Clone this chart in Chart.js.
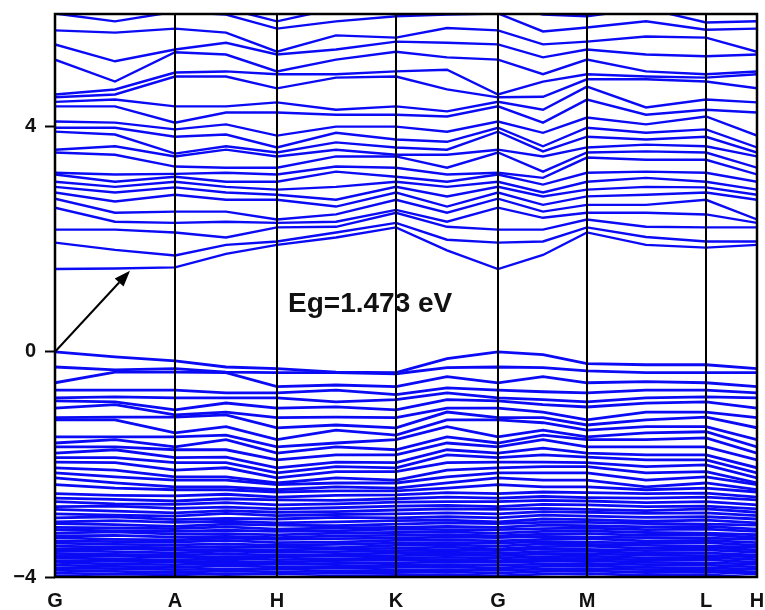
<!DOCTYPE html>
<html>
<head>
<meta charset="utf-8">
<script src="https://cdn.jsdelivr.net/npm/chart.js@4.4.0/dist/chart.umd.min.js"></script>
<style>
  html, body { margin: 0; padding: 0; background: #fff; }
  canvas { display: block; }
</style>
</head>
<body>
<canvas id="bandChart" width="765" height="610"></canvas>
<script>
// high-symmetry path (k distance in arbitrary units) and tick labels
const kLabels = ['G', 'A', 'H', 'K', 'G', 'M', 'L', 'H'];
const kTicks = [0, 120, 222, 341, 443, 532, 651, 702];
// sampled k points along the path (symmetry points + one point inside each segment)
const kPath = [0, 60, 120, 171, 222, 281, 341, 392, 443, 488, 532, 591, 651, 702];
const yTicks = [-4, 0, 4];

// conduction band energies (eV) read at each k point, lowest first
const cG  = [1.47, 1.94, 2.17, 2.56, 2.72, 2.83, 2.93, 3.02, 3.15, 3.18, 3.54, 3.59, 3.91, 3.98, 4.09, 4.36, 4.44, 4.52, 4.57, 5.19, 5.46, 5.71, 6.01, 6.17];
const cGA = [1.48, 1.81, 2.17, 2.31, 2.47, 2.67, 2.83, 2.93, 3.02, 3.15, 3.50, 3.65, 3.86, 3.98, 4.07, 4.36, 4.48, 4.57, 4.66, 4.80, 5.16, 5.67, 5.87, 6.05];
const cA  = [1.50, 1.71, 2.12, 2.29, 2.49, 2.79, 2.92, 3.02, 3.11, 3.16, 3.29, 3.47, 3.52, 3.82, 3.95, 4.07, 4.36, 4.89, 4.96, 5.32, 5.37, 5.74, 6.04, 6.17];
const cAH = [1.74, 1.90, 2.03, 2.31, 2.49, 2.70, 2.83, 2.93, 3.02, 3.18, 3.27, 3.59, 3.65, 3.86, 4.04, 4.25, 4.36, 4.89, 4.98, 5.28, 5.49, 5.67, 5.99, 6.10];
const cH  = [1.90, 1.96, 2.21, 2.29, 2.35, 2.70, 2.79, 2.88, 3.02, 3.15, 3.27, 3.47, 3.54, 3.63, 3.84, 4.25, 4.43, 4.68, 4.93, 4.98, 5.28, 5.33, 5.74, 5.87];
const cHK = [2.03, 2.12, 2.22, 2.31, 2.44, 2.58, 2.70, 2.93, 3.20, 3.29, 3.47, 3.59, 3.72, 3.89, 4.00, 4.21, 4.30, 4.87, 4.93, 5.19, 5.37, 5.62, 5.87, 6.10];
const cK  = [2.21, 2.29, 2.47, 2.52, 2.70, 2.83, 2.93, 3.02, 3.11, 3.27, 3.47, 3.50, 3.63, 3.77, 4.00, 4.21, 4.36, 4.89, 4.98, 5.33, 5.51, 5.58, 5.96, 6.12];
const cKG = [1.80, 1.99, 2.22, 2.31, 2.47, 2.58, 2.76, 2.93, 3.02, 3.15, 3.27, 3.50, 3.59, 3.73, 3.91, 4.18, 4.27, 4.66, 5.01, 5.23, 5.49, 5.75, 5.99, 6.15];
const cGM = [1.72, 1.96, 2.17, 2.38, 2.49, 2.61, 2.76, 2.83, 2.97, 3.09, 3.20, 3.47, 3.56, 3.65, 3.89, 4.07, 4.30, 4.53, 4.80, 4.93, 5.23, 5.46, 5.69, 5.99];
const cM  = [2.12, 2.21, 2.35, 2.47, 2.61, 2.76, 2.88, 3.02, 3.18, 3.45, 3.54, 3.63, 3.82, 3.98, 4.16, 4.48, 4.71, 4.84, 4.93, 5.19, 5.37, 5.51, 5.76, 5.96];
const cML = [1.90, 2.04, 2.22, 2.47, 2.61, 2.79, 2.93, 3.09, 3.20, 3.41, 3.56, 3.68, 3.77, 3.89, 4.04, 4.21, 4.34, 4.84, 4.89, 4.98, 5.28, 5.60, 5.87, 6.10];
const cL  = [1.85, 1.96, 2.21, 2.44, 2.70, 2.83, 2.92, 3.02, 3.18, 3.41, 3.54, 3.65, 3.82, 3.95, 4.18, 4.30, 4.48, 4.80, 4.87, 4.93, 5.25, 5.58, 5.72, 5.85];

// valence band energies (eV) at each k point, highest first
const vG  = [0.00, -0.27, -0.55, -0.68, -0.82, -0.87, -1.00, -1.17, -1.21, -1.51, -1.62, -1.69, -1.80, -1.88, -1.96, -2.06, -2.15, -2.24, -2.36,
  -2.52, -2.60, -2.66, -2.75, -2.80, -2.88, -2.95, -3.02, -3.05, -3.12, -3.16, -3.22, -3.27, -3.30, -3.36, -3.40, -3.45, -3.50, -3.53, -3.58, -3.62, -3.66, -3.71, -3.74, -3.79, -3.84, -3.88, -3.93, -3.98, -4.05, -4.15];
const vGA = [-0.09, -0.32, -0.36, -0.68, -0.80, -0.89, -0.94, -1.16, -1.21, -1.51, -1.56, -1.69, -1.74, -1.88, -1.97, -2.10, -2.22, -2.33, -2.42,
  -2.55, -2.62, -2.70, -2.74, -2.83, -2.90, -2.93, -3.00, -3.07, -3.13, -3.18, -3.20, -3.26, -3.33, -3.37, -3.42, -3.47, -3.49, -3.55, -3.60, -3.63, -3.68, -3.72, -3.77, -3.81, -3.85, -3.90, -3.95, -4.00, -4.07, -4.18];
const vA  = [-0.16, -0.30, -0.36, -0.68, -0.82, -1.03, -1.12, -1.16, -1.44, -1.51, -1.69, -1.74, -1.88, -1.97, -2.10, -2.22, -2.28, -2.40, -2.45,
  -2.56, -2.65, -2.71, -2.78, -2.86, -2.92, -2.98, -3.03, -3.10, -3.14, -3.19, -3.24, -3.29, -3.34, -3.38, -3.43, -3.48, -3.52, -3.57, -3.61, -3.65, -3.70, -3.73, -3.78, -3.83, -3.87, -3.92, -3.96, -4.02, -4.10, -4.20];
const vAH = [-0.27, -0.36, -0.37, -0.73, -0.82, -0.91, -1.07, -1.12, -1.33, -1.48, -1.56, -1.74, -1.87, -1.97, -2.06, -2.22, -2.28, -2.40, -2.45,
  -2.53, -2.61, -2.68, -2.76, -2.82, -2.87, -2.96, -3.01, -3.06, -3.11, -3.17, -3.23, -3.28, -3.31, -3.35, -3.41, -3.46, -3.51, -3.54, -3.59, -3.64, -3.67, -3.72, -3.76, -3.80, -3.86, -3.89, -3.94, -3.99, -4.06, -4.16];
const vH  = [-0.30, -0.37, -0.62, -0.73, -0.82, -1.00, -1.17, -1.35, -1.56, -1.69, -1.80, -1.92, -2.06, -2.15, -2.24, -2.33, -2.36, -2.45, -2.49,
  -2.58, -2.63, -2.72, -2.79, -2.85, -2.91, -2.97, -3.04, -3.08, -3.15, -3.19, -3.25, -3.30, -3.33, -3.39, -3.44, -3.47, -3.52, -3.56, -3.61, -3.64, -3.69, -3.74, -3.77, -3.82, -3.86, -3.91, -3.95, -4.01, -4.08, -4.18];
const vHK = [-0.36, -0.37, -0.59, -0.68, -0.89, -0.98, -1.16, -1.30, -1.39, -1.62, -1.69, -1.83, -1.96, -2.04, -2.13, -2.24, -2.33, -2.40, -2.47,
  -2.55, -2.64, -2.70, -2.77, -2.84, -2.89, -2.94, -3.02, -3.09, -3.13, -3.18, -3.22, -3.27, -3.32, -3.38, -3.42, -3.48, -3.50, -3.55, -3.60, -3.63, -3.68, -3.71, -3.76, -3.81, -3.84, -3.89, -3.93, -3.98, -4.04, -4.14];
const vK  = [-0.37, -0.39, -0.62, -0.76, -0.85, -1.03, -1.17, -1.35, -1.48, -1.56, -1.74, -1.83, -1.97, -2.06, -2.13, -2.28, -2.33, -2.42, -2.47,
  -2.54, -2.61, -2.67, -2.74, -2.81, -2.88, -2.95, -3.00, -3.06, -3.12, -3.15, -3.21, -3.26, -3.31, -3.35, -3.40, -3.44, -3.49, -3.53, -3.57, -3.62, -3.66, -3.70, -3.75, -3.79, -3.83, -3.88, -3.92, -3.97, -4.03, -4.12];
const vKG = [-0.12, -0.28, -0.44, -0.64, -0.73, -0.85, -1.00, -1.07, -1.21, -1.33, -1.51, -1.62, -1.74, -1.83, -1.97, -2.10, -2.22, -2.33, -2.42,
  -2.50, -2.58, -2.66, -2.73, -2.79, -2.86, -2.93, -2.99, -3.04, -3.10, -3.16, -3.20, -3.25, -3.29, -3.34, -3.39, -3.43, -3.47, -3.52, -3.56, -3.60, -3.65, -3.69, -3.73, -3.78, -3.82, -3.87, -3.91, -3.96, -4.02, -4.11];
const vGM = [-0.05, -0.28, -0.44, -0.71, -0.85, -0.94, -1.07, -1.17, -1.26, -1.39, -1.48, -1.56, -1.71, -1.83, -1.96, -2.04, -2.15, -2.28, -2.40,
  -2.49, -2.57, -2.64, -2.71, -2.78, -2.84, -2.90, -2.97, -3.03, -3.08, -3.14, -3.19, -3.24, -3.28, -3.33, -3.37, -3.41, -3.46, -3.50, -3.55, -3.59, -3.64, -3.68, -3.72, -3.77, -3.81, -3.86, -3.90, -3.95, -4.01, -4.10];
const vM  = [-0.21, -0.34, -0.55, -0.73, -0.89, -0.98, -1.21, -1.30, -1.39, -1.51, -1.56, -1.69, -1.80, -1.87, -1.97, -2.04, -2.15, -2.28, -2.40,
  -2.50, -2.59, -2.65, -2.72, -2.80, -2.85, -2.92, -2.98, -3.03, -3.09, -3.13, -3.18, -3.23, -3.29, -3.32, -3.38, -3.42, -3.45, -3.51, -3.54, -3.59, -3.63, -3.67, -3.71, -3.76, -3.80, -3.85, -3.89, -3.94, -4.00, -4.09];
const vML = [-0.23, -0.37, -0.53, -0.68, -0.82, -0.91, -1.07, -1.21, -1.33, -1.44, -1.56, -1.69, -1.83, -1.92, -2.04, -2.15, -2.28, -2.40, -2.45,
  -2.52, -2.60, -2.68, -2.75, -2.82, -2.87, -2.94, -3.01, -3.05, -3.11, -3.16, -3.21, -3.26, -3.30, -3.36, -3.40, -3.44, -3.49, -3.53, -3.58, -3.61, -3.66, -3.70, -3.74, -3.78, -3.83, -3.87, -3.92, -3.97, -4.03, -4.13];
const vL  = [-0.23, -0.37, -0.55, -0.68, -0.80, -0.89, -1.07, -1.16, -1.33, -1.42, -1.53, -1.69, -1.83, -1.92, -2.01, -2.13, -2.22, -2.33, -2.42,
  -2.51, -2.58, -2.66, -2.74, -2.79, -2.86, -2.93, -2.99, -3.06, -3.10, -3.15, -3.22, -3.25, -3.31, -3.35, -3.39, -3.45, -3.48, -3.52, -3.57, -3.62, -3.65, -3.69, -3.75, -3.79, -3.84, -3.88, -3.91, -3.96, -4.04, -4.14];

// annotation: arrow from VBM to CBM and gap label
const arrowFrom = [0, 0];
const arrowTo = [75, 1.44];
const gapText = 'Eg=1.473 eV';
const gapTextPos = [233, 0.84];

// columns in path order (G and H repeat at both ends of their segments)
const condCols = [cG, cGA, cA, cAH, cH, cHK, cK, cKG, cG, cGM, cM, cML, cL, cH];
const valCols = [vG, vGA, vA, vAH, vH, vHK, vK, vKG, vG, vGM, vM, vML, vL, vH];

const BAND_COLOR = '#0a0af5';

function bandDatasets(cols, width) {
  const n = cols[0].length;
  const sets = [];
  for (let i = 0; i < n; i++) {
    sets.push({
      data: kPath.map((k, j) => ({ x: k, y: cols[j][i] })),
      borderColor: BAND_COLOR,
      borderWidth: width,
      pointRadius: 0,
      tension: 0,
      fill: false
    });
  }
  return sets;
}

// frame, high-symmetry lines, arrow and gap label
const overlayPlugin = {
  id: 'overlay',
  afterDatasetsDraw(chart) {
    const { ctx, chartArea: a, scales: { x, y } } = chart;
    ctx.save();
    ctx.strokeStyle = '#000';
    ctx.lineWidth = 2;
    kTicks.slice(1, -1).forEach(k => {
      const px = Math.round(x.getPixelForValue(k));
      ctx.beginPath();
      ctx.moveTo(px, a.top);
      ctx.lineTo(px, a.bottom);
      ctx.stroke();
    });
    ctx.lineWidth = 2.5;
    ctx.strokeRect(a.left, a.top, a.right - a.left, a.bottom - a.top);

    // arrow
    const x0 = x.getPixelForValue(arrowFrom[0]), y0 = y.getPixelForValue(arrowFrom[1]);
    const x1 = x.getPixelForValue(arrowTo[0]), y1 = y.getPixelForValue(arrowTo[1]);
    const ang = Math.atan2(y1 - y0, x1 - x0);
    const head = 16, half = 6;
    const bx = x1 - head * Math.cos(ang), by = y1 - head * Math.sin(ang);
    ctx.lineWidth = 2;
    ctx.beginPath();
    ctx.moveTo(x0, y0);
    ctx.lineTo(bx, by);
    ctx.stroke();
    ctx.fillStyle = '#000';
    ctx.beginPath();
    ctx.moveTo(x1, y1);
    ctx.lineTo(bx + half * Math.sin(ang), by - half * Math.cos(ang));
    ctx.lineTo(bx - half * Math.sin(ang), by + half * Math.cos(ang));
    ctx.closePath();
    ctx.fill();

    // gap label
    ctx.font = 'bold 28px "Liberation Sans", Arial, sans-serif';
    ctx.fillStyle = '#111';
    ctx.textBaseline = 'middle';
    ctx.textAlign = 'left';
    ctx.fillText(gapText, x.getPixelForValue(gapTextPos[0]), y.getPixelForValue(gapTextPos[1]));
    ctx.restore();
  }
};

const tickFont = { family: '"Liberation Sans", Arial, sans-serif', size: 20, weight: 'bold' };

new Chart(document.getElementById('bandChart'), {
  type: 'line',
  data: { datasets: bandDatasets(condCols, 2.4).concat(bandDatasets(valCols, 2.8)) },
  options: {
    responsive: false,
    animation: false,
    layout: { padding: { top: 14, right: 8, left: 0, bottom: 0 } },
    plugins: { legend: { display: false }, tooltip: { enabled: false } },
    scales: {
      x: {
        type: 'linear',
        min: kTicks[0],
        max: kTicks[kTicks.length - 1],
        afterBuildTicks: s => { s.ticks = kTicks.map(v => ({ value: v })); },
        afterFit: s => { s.height = 33; s.paddingLeft = 0; s.paddingRight = 0; },
        grid: { display: false },
        border: { display: false },
        ticks: {
          autoSkip: false,
          maxRotation: 0,
          padding: 4,
          color: '#111',
          font: tickFont,
          callback: (v, i) => kLabels[i]
        }
      },
      y: {
        min: -4,
        max: 6,
        afterBuildTicks: s => { s.ticks = yTicks.map(v => ({ value: v })); },
        afterFit: s => { s.width = 55; s.paddingTop = 0; s.paddingBottom = 0; },
        grid: { drawOnChartArea: false, drawTicks: true, tickLength: 10, tickWidth: 2, tickColor: '#000' },
        border: { display: false },
        ticks: {
          padding: 9,
          color: '#111',
          font: tickFont,
          callback: v => (v < 0 ? '\u2212' + Math.abs(v) : String(v))
        }
      }
    }
  },
  plugins: [overlayPlugin]
});
</script>
</body>
</html>
